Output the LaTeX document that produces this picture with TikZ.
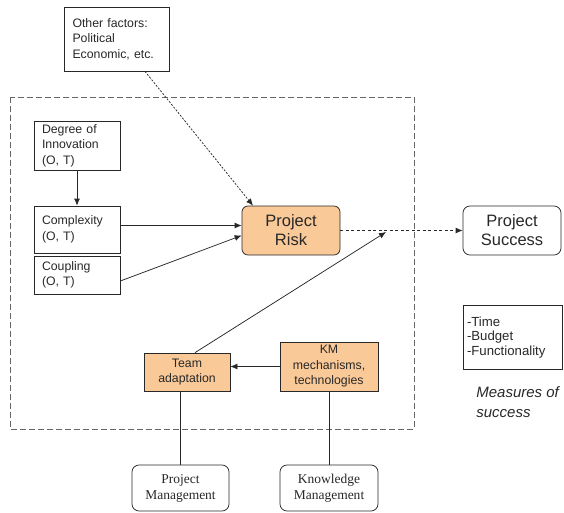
\documentclass[tikz,border=0pt]{standalone}
\usepackage{fontspec}
\setmainfont{Liberation Sans}
\newfontfamily\timesfont{Liberation Serif}
\usetikzlibrary{arrows.meta}
\definecolor{ink}{RGB}{40,40,40}
\definecolor{riskorange}{RGB}{250,201,152}

\begin{document}
\begin{tikzpicture}[x=1pt, y=-1pt, line width=0.75pt, draw=ink, text=ink,
    box/.style={draw=ink, rectangle, inner sep=0pt, align=left, font=\fontsize{12.3}{15.5}\selectfont},
    orangebox/.style={box, fill=riskorange, align=center},
    roundbox/.style={draw=ink, rectangle, rounded corners=7pt, inner sep=0pt, align=center, minimum width=98pt},
    arrow/.style={-{Latex[length=7pt, width=6pt]}},
    dasharrow/.style={arrow, dash pattern=on 3pt off 2.5pt},
    dotarrow/.style={arrow, dash pattern=on 2pt off 1.5pt}]
    \useasboundingbox (0,0) rectangle (564,512);
    \draw[gray!80!black, line width=0.8pt, dash pattern=on 6pt off 3pt] (10,97) rectangle (414,429);

    \node[box, minimum width=105pt, minimum height=64pt, text width=88pt] (factors) at (116.5,39) {Other factors:\\Political\\Economic, etc.};
    \node[box, minimum width=86pt, minimum height=49pt, text width=70pt] (innovation) at (77,145.5) {Degree of\\Innovation\\(O, T)};
    \node[box, minimum width=86pt, minimum height=47pt, text width=70pt] (complexity) at (77,229.5) {Complexity\\(O, T)};
    \node[box, minimum width=86pt, minimum height=38pt, text width=70pt] (coupling) at (77,275) {Coupling\\(O, T)};

    \node[roundbox, minimum height=49pt, fill=riskorange, rounded corners=6pt, font=\fontsize{16.5}{19}\selectfont] (risk) at (291,230.5) {Project\\Risk};
    \node[roundbox, minimum height=49pt, font=\fontsize{16.5}{19}\selectfont] (success) at (512,230.5) {Project\\Success};
    \coordinate (join) at (386,232);

    \node[orangebox, minimum width=86pt, minimum height=38pt] (team) at (187,372) {Team\\adaptation};
    \node[orangebox, minimum width=98pt, minimum height=49pt] (km) at (329,366.5) {KM\\mechanisms,\\technologies};

    \node[roundbox, minimum width=97pt, minimum height=46pt, font=\timesfont\fontsize{13.5}{16}\selectfont] (pm) at (180.5,488) {Project\\Management};
    \node[roundbox, minimum height=46pt, font=\timesfont\fontsize{13.5}{16}\selectfont] (kmgmt) at (329,488) {Knowledge\\Management};

    \node[box, minimum width=99pt, minimum height=64pt, text width=91pt, font=\fontsize{13.2}{14.5}\selectfont] (measures) at (512.5,337.5) {-Time\\-Budget\\-Functionality};
    \node[anchor=north west, inner sep=0pt, align=left, font=\fontsize{15}{20}\selectfont\itshape] (measurelabel) at (476,386) {Measures of\\success};

    \draw[dotarrow] ([xshift=28.5pt]factors.south) -- ([xshift=-38pt]risk.north);
    \draw[arrow] (innovation.south) -- (complexity.north);
    \draw[arrow] ([yshift=4pt]complexity.east) -- ([yshift=5pt]risk.west);
    \draw[arrow] ([yshift=-6pt]coupling.east) -- ([yshift=-5pt]risk.west);
    \draw[dasharrow] (risk.east) -- (success.west);
    \draw[arrow] ([xshift=8pt]team.north) -- (join);
    \draw[arrow] (km.west) -- (km.west -| team.east);
    \draw (pm.north |- team.south) -- (pm.north);
    \draw (km.south) -- (kmgmt.north);
\end{tikzpicture}
\end{document}
